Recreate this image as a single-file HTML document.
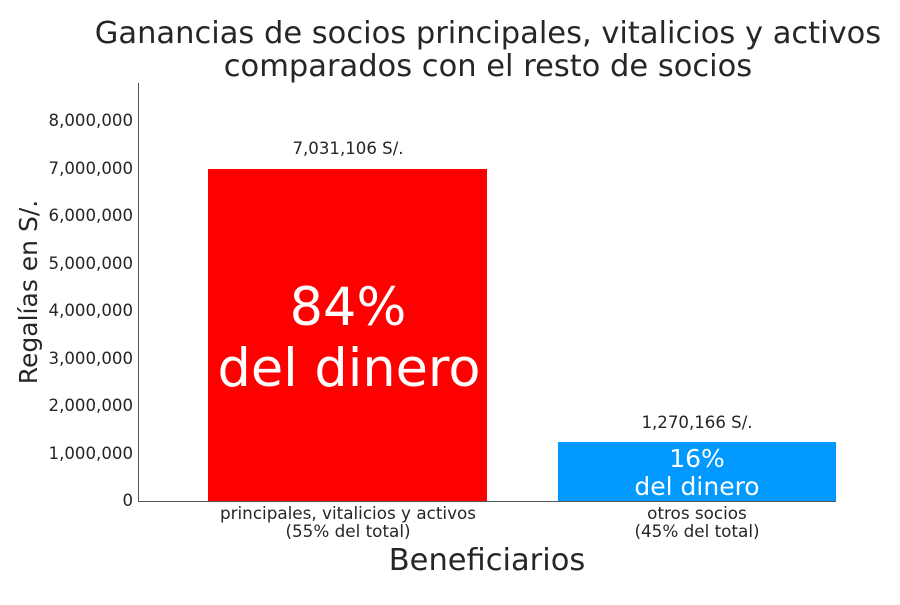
<!DOCTYPE html>
<html><head><meta charset="utf-8"><style>
body{margin:0;background:#fff}
svg text{font-family:"DejaVu Sans","Liberation Sans",sans-serif;fill:#262626}
</style></head><body>
<svg width="900" height="600" xmlns="http://www.w3.org/2000/svg">
<text x="488" y="43" font-size="30.5" text-anchor="middle">Ganancias de socios principales, vitalicios y activos</text>
<text x="488" y="76" font-size="30.5" text-anchor="middle">comparados con el resto de socios</text>
<rect x="208" y="169" width="279" height="333" fill="#ff0000"/>
<rect x="558" y="442" width="278" height="60" fill="#0099ff"/>
<line x1="138.5" y1="83" x2="138.5" y2="502" stroke="#555" stroke-width="1"/>
<line x1="138" y1="501.5" x2="836" y2="501.5" stroke="#555" stroke-width="1"/>
<g font-size="16.6" text-anchor="end">
<text x="133" y="506">0</text>
<text x="133" y="459">1,000,000</text>
<text x="133" y="411">2,000,000</text>
<text x="133" y="364">3,000,000</text>
<text x="133" y="316">4,000,000</text>
<text x="133" y="269">5,000,000</text>
<text x="133" y="221">6,000,000</text>
<text x="133" y="174">7,000,000</text>
<text x="133" y="126">8,000,000</text>
</g>
<text transform="translate(37,292) rotate(-90)" font-size="25" text-anchor="middle">Regalías en S/.</text>
<text x="348" y="154" font-size="16.6" text-anchor="middle">7,031,106 S/.</text>
<text x="697" y="428" font-size="16.6" text-anchor="middle">1,270,166 S/.</text>
<text x="348" y="325" font-size="52.5" text-anchor="middle" style="fill:#fff">84%</text>
<text x="349" y="386" font-size="52.5" text-anchor="middle" style="fill:#fff">del dinero</text>
<text x="697" y="467" font-size="25" text-anchor="middle" style="fill:#fff">16%</text>
<text x="697" y="495" font-size="25" text-anchor="middle" style="fill:#fff">del dinero</text>
<g font-size="16.8" text-anchor="middle">
<text x="348" y="519">principales, vitalicios y activos</text>
<text x="348" y="537">(55% del total)</text>
<text x="697" y="519">otros socios</text>
<text x="697" y="537">(45% del total)</text>
</g>
<text x="487" y="570" font-size="30.5" text-anchor="middle">Beneficiarios</text>
</svg>
</body></html>
